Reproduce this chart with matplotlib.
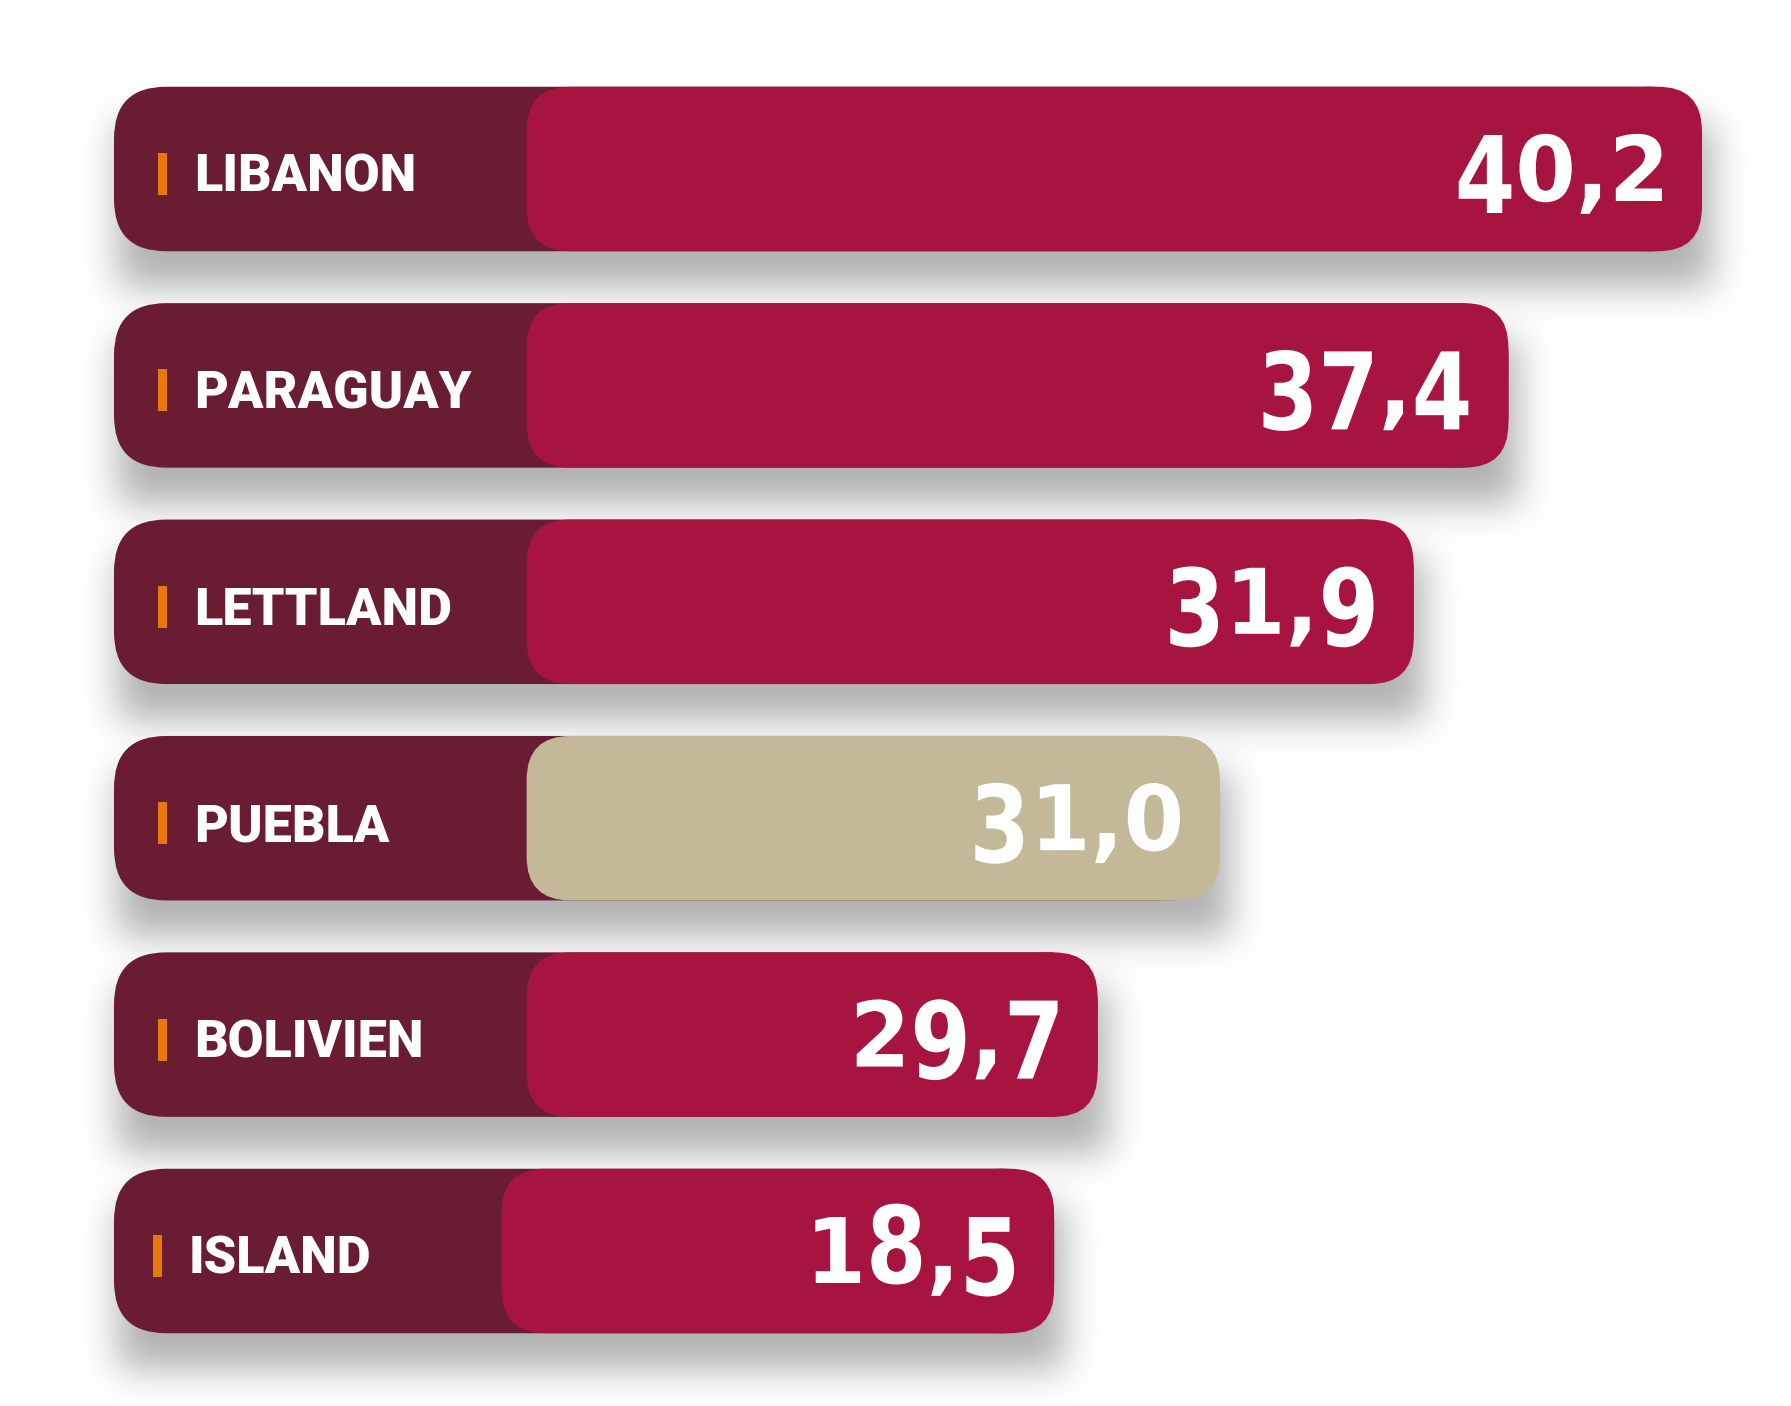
import numpy as np
import matplotlib
matplotlib.use("Agg")
import matplotlib.pyplot as plt
from matplotlib.patches import FancyBboxPatch, Rectangle, PathPatch
from matplotlib.textpath import TextPath, TextToPath
from matplotlib.font_manager import FontProperties
from matplotlib.transforms import Affine2D, IdentityTransform

# ---------------- data ----------------
countries = ["LIBANON", "PARAGUAY", "LETTLAND", "PUEBLA", "BOLIVIEN", "ISLAND"]
values = [40.2, 37.4, 31.9, 31.0, 29.7, 18.5]
# visual bar lengths as drawn in the infographic (not proportional to values)
bar_lengths = [40.2, 35.3, 32.9, 28.0, 24.9, 23.8]
highlight = "PUEBLA"

# ---------------- style ----------------
W, H, DPI = 1791, 1406, 100
C_DARK = "#6A1C33"
C_RED = "#A71440"
C_TAN = "#C3B998"
C_ORANGE = "#E8780A"

px_x = 39.5      # pixels per x unit
px_y = 216.4     # pixels per row
x0_px = 114      # left edge of bars
row0_px = 169    # centre of first row
bar_h = 164.5 / px_y
panel_px = 526.6 - x0_px
panel_shift_px = [0, 0, 0, 0, 0, -25]     # last row's panel is a bit narrower
label_shift_px = [0, 0, 0, 0, 0, -5]
r_outer = 52 / px_x
r_inner = 44 / px_x
asp = px_x / px_y

fig = plt.figure(figsize=(W / DPI, H / DPI), dpi=DPI)
fig.patch.set_facecolor("white")

ax_bg = fig.add_axes([0, 0, 1, 1], zorder=0)
ax = fig.add_axes([0, 0, 1, 1], zorder=1)
ax.patch.set_visible(False)
ax.set_xlim(-x0_px / px_x, (W - x0_px) / px_x)
ax.set_ylim((H - row0_px) / px_y, -row0_px / px_y)
ax.axis("off")

# ---------------- shadow ----------------
fig.canvas.draw()
mask = np.zeros((H, W))
shadow_dy = 36
for i, L in enumerate(bar_lengths):
    (xa, ya), (xb, yb) = ax.transData.transform([(0, i - bar_h / 2), (L, i + bar_h / 2)])
    r0 = int(round(H - max(ya, yb))) + shadow_dy
    r1 = int(round(H - min(ya, yb))) + shadow_dy
    c0 = int(round(min(xa, xb))) + 4
    c1 = int(round(max(xa, xb))) + 10
    mask[max(r0, 0):min(r1, H), max(c0, 0):min(c1, W)] = 1.0


def box_blur(a, r, axis):
    pad = [(0, 0), (0, 0)]
    pad[axis] = (r + 1, r)
    p = np.pad(a, pad, mode="constant")
    c = np.cumsum(p, axis=axis)
    n = 2 * r + 1
    if axis == 0:
        return (c[n:] - c[:-n]) / n
    return (c[:, n:] - c[:, :-n]) / n


blur = mask
for _ in range(3):
    blur = box_blur(blur, 17, 0)
    blur = box_blur(blur, 17, 1)

rgba = np.zeros((H, W, 4))
rgba[..., :3] = 0.18
rgba[..., 3] = np.clip(blur * 0.37, 0, 1)
ax_bg.imshow(rgba, extent=[0, W, H, 0], origin="upper", aspect="auto",
             interpolation="bilinear")
ax_bg.set_xlim(0, W)
ax_bg.set_ylim(H, 0)
ax_bg.axis("off")

# ---------------- old-style figure helper ----------------
num_prop = FontProperties(family="DejaVu Sans", weight="bold", size=100)
ttp = TextToPath()
CAP = 72.9          # digit height of DejaVu Sans Bold at size 100
X_H = 66.0          # px height of short figures (0 1 2)
BIG_H = 78.0        # px height of ascending / descending figures
SX = 0.87           # horizontal px per font unit
DESC = set("34579")
ASC = set("68")


def advance(s):
    if not s:
        return 0.0
    w, h, d = ttp.get_text_width_height_descent(s, num_prop, ismath=False)
    return w


def draw_number(ax, s, right_disp, base_disp):
    glyphs = []
    for k, ch in enumerate(s):
        path = TextPath((0, 0), ch, prop=num_prop)
        glyphs.append((ch, path, advance(s[:k])))
    last_ch, last_path, last_adv = glyphs[-1]
    ink_right = (last_adv + last_path.get_extents().x1) * SX
    x_start = right_disp - ink_right
    for ch, path, a in glyphs:
        if ch in DESC:
            sy, drop = BIG_H / CAP, BIG_H - X_H
        elif ch in ASC:
            sy, drop = BIG_H / CAP, 0.0
        else:
            sy, drop = X_H / CAP, 0.0
        tr = Affine2D().scale(SX, sy).translate(x_start + a * SX, base_disp - drop)
        ax.add_patch(PathPatch(tr.transform_path(path), transform=IdentityTransform(),
                               fc="white", ec="none", zorder=6, clip_on=False))


# ---------------- bars ----------------
for i, (name, val, L) in enumerate(zip(countries, values, bar_lengths)):
    y = i
    panel = (panel_px + panel_shift_px[i]) / px_x
    dx = label_shift_px[i] / px_x
    outer = FancyBboxPatch((0, y - bar_h / 2), L, bar_h,
                           boxstyle=f"round,pad=0,rounding_size={r_outer}",
                           mutation_aspect=asp, fc=C_DARK, ec="none", zorder=2)
    ax.add_patch(outer)
    inner_col = C_TAN if name == highlight else C_RED
    inner = FancyBboxPatch((panel, y - bar_h / 2), L - panel, bar_h,
                           boxstyle=f"round,pad=0,rounding_size={r_inner}",
                           mutation_aspect=asp, fc=inner_col, ec="none", zorder=3)
    ax.add_patch(inner)
    # right end follows the outer corner radius
    ax.add_patch(FancyBboxPatch((L - 2 * r_outer, y - bar_h / 2), 2 * r_outer, bar_h,
                                boxstyle=f"round,pad=0,rounding_size={r_outer}",
                                mutation_aspect=asp, fc=inner_col, ec="none", zorder=3))

    # orange tick
    tick_h = 42 / px_y
    ax.add_patch(Rectangle((44 / px_x + dx, y + 5 / px_y - tick_h / 2), 9 / px_x, tick_h,
                           fc=C_ORANGE, ec="none", zorder=4))
    # country label
    ax.text(80 / px_x + dx, y + 23 / px_y, name, ha="left", va="baseline",
            color="white", fontsize=37.5, fontweight="black",
            family=["Roboto", "DejaVu Sans"], zorder=5)
    # value label (old-style figures)
    rx, by = ax.transData.transform((L - 40 / px_x, y + 32 / px_y))
    draw_number(ax, f"{val:.1f}".replace(".", ","), rx, by)

fig.savefig("out.png", dpi=DPI, facecolor="white")
